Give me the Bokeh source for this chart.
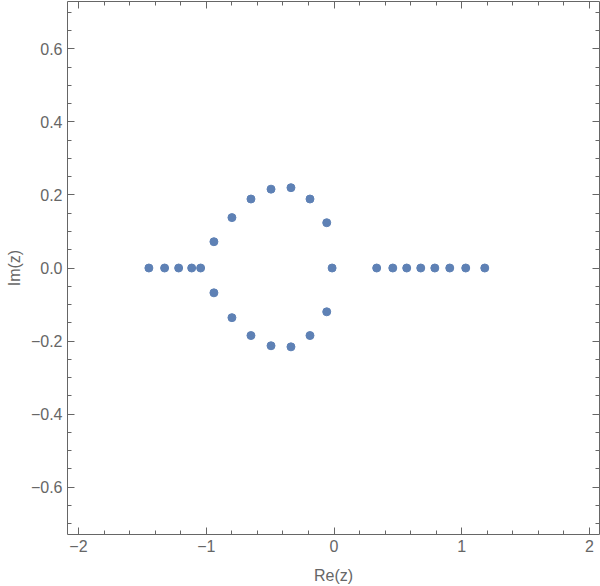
import numpy as np
from bokeh.plotting import figure
from bokeh.models import FixedTicker, LinearAxis, Range1d, ColumnDataSource
from bokeh.embed import file_html
from bokeh.resources import INLINE

# Data: roots in the complex plane
re_vals = [-1.449, -1.326, -1.216, -1.114, -1.044,
           -0.940, -0.799, -0.650, -0.493, -0.337, -0.188, -0.057,
           -0.015,
           -0.940, -0.799, -0.650, -0.493, -0.337, -0.188, -0.057,
           0.334, 0.460, 0.569, 0.679, 0.789, 0.906, 1.031, 1.180]
im_vals = [0.0, 0.0, 0.0, 0.0, 0.0,
           0.072, 0.138, 0.189, 0.216, 0.220, 0.189, 0.124,
           0.0,
           -0.068, -0.136, -0.185, -0.213, -0.216, -0.185, -0.120,
           0.0, 0.0, 0.0, 0.0, 0.0, 0.0, 0.0, 0.0]

x_ticks = [-2, -1, 0, 1, 2]
x_tick_labels = ["\u22122", "\u22121", "0", "1", "2"]
y_ticks = [-0.6, -0.4, -0.2, 0.0, 0.2, 0.4, 0.6]
y_tick_labels = ["\u22120.6", "\u22120.4", "\u22120.2", "0.0", "0.2", "0.4", "0.6"]
x_minor = [round(v, 2) for v in np.arange(-2.2, 2.21, 0.2)]
y_minor = [round(v, 3) for v in np.arange(-0.75, 0.751, 0.05)]

AX = "#666666"
FONT = "Liberation Sans"

p = figure(width=600, height=586, output_backend="svg", toolbar_location=None,
           x_range=Range1d(-2.086, 2.078), y_range=Range1d(-0.73, 0.73),
           min_border_left=67, min_border_right=1, min_border_top=1, min_border_bottom=52)
p.xgrid.visible = False
p.ygrid.visible = False
p.outline_line_color = AX
p.outline_line_width = 1
p.background_fill_color = "white"
p.border_fill_color = "white"

src = ColumnDataSource(data=dict(x=re_vals, y=im_vals))
p.scatter("x", "y", source=src, size=8, fill_color="#5E81B5", line_color="#5E81B5")

def style_axis(ax, ticks, minor, labels, show_labels):
    ax.ticker = FixedTicker(ticks=ticks, minor_ticks=minor)
    ax.axis_line_color = None
    ax.major_tick_line_color = AX
    ax.minor_tick_line_color = AX
    ax.major_tick_in = 7
    ax.major_tick_out = 0
    ax.minor_tick_in = 4
    ax.minor_tick_out = 0
    if show_labels:
        ax.major_label_overrides = {t: l for t, l in zip(ticks, labels)}
        ax.major_label_text_font = FONT
        ax.major_label_text_font_size = "16px"
        ax.major_label_text_color = AX
    else:
        ax.major_label_text_font_size = "0px"
        ax.major_label_text_color = None

xa = p.xaxis[0]
style_axis(xa, x_ticks, x_minor, x_tick_labels, True)
xa.major_label_standoff = 5
xa.axis_label = "Re(z)"
xa.axis_label_text_font = FONT
xa.axis_label_text_font_size = "16px"
xa.axis_label_text_font_style = "normal"
xa.axis_label_text_color = AX
xa.axis_label_standoff = 12

ya = p.yaxis[0]
style_axis(ya, y_ticks, y_minor, y_tick_labels, True)
ya.major_label_standoff = 5
ya.axis_label = "Im(z)"
ya.axis_label_text_font = FONT
ya.axis_label_text_font_size = "16px"
ya.axis_label_text_font_style = "normal"
ya.axis_label_text_color = AX
ya.axis_label_standoff = 5

top = LinearAxis()
style_axis(top, x_ticks, x_minor, x_tick_labels, False)
p.add_layout(top, "above")
right = LinearAxis()
style_axis(right, y_ticks, y_minor, y_tick_labels, False)
p.add_layout(right, "right")

open("out.html", "w").write(file_html(p, INLINE))
